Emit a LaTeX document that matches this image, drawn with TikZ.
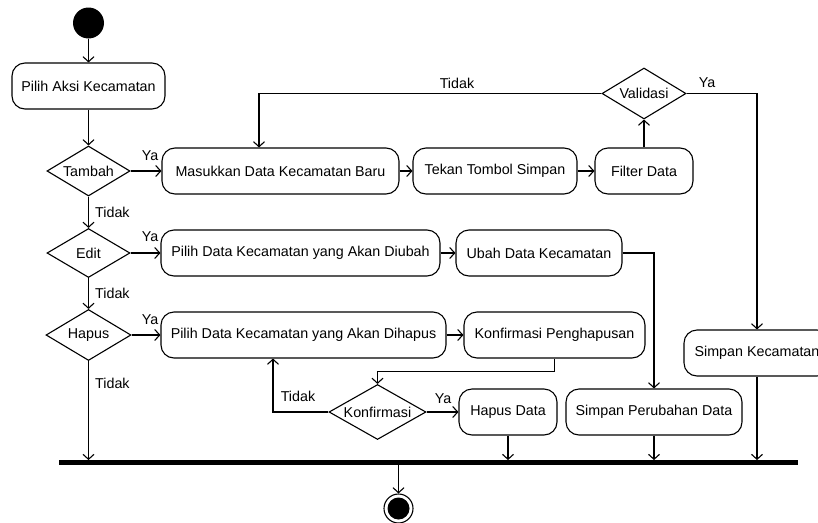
\documentclass[tikz,border=0pt]{standalone}
\usepackage{fontspec}
\setmainfont{Liberation Sans}
\usetikzlibrary{shapes.geometric,arrows.meta}
\begin{document}
\begin{tikzpicture}[x=1pt,y=-1pt,
  every node/.style={font=\fontsize{14.3}{17}\selectfont},
  act/.style={draw, rounded corners=13pt, line width=1.1pt, inner sep=0pt, minimum height=46pt},
  dec/.style={draw, diamond, aspect=1.7, inner sep=0pt, line width=1.1pt},
  lbl/.style={inner sep=0pt},
  flow/.style={draw, line width=1.1pt, -{Straight Barb[length=5pt,width=11pt,line width=1.1pt]}},
  bar/.style={fill=black, inner sep=0pt, minimum width=739pt, minimum height=4.5pt},
  startdot/.style={circle, fill=black, inner sep=0pt, minimum size=31pt},
  finring/.style={circle, draw, line width=1.1pt, fill=white, inner sep=0pt, minimum size=29pt},
  findot/.style={circle, fill=black, inner sep=0pt, minimum size=22pt}
]
\useasboundingbox (0,0) rectangle (818,522);
\clip (0,0) rectangle (818,522);

% start
\node[startdot] (s) at (88.5,23) {};
\node[act, minimum width=153pt] (a1) at (88.5,86) {Pilih Aksi Kecamatan};

% decisions
\node[dec, minimum width=83pt, minimum height=50pt] (t) at (88.5,171) {Tambah};
\node[dec, minimum width=83pt, minimum height=49pt] (e) at (88.5,253) {Edit};
\node[dec, minimum width=85pt, minimum height=51pt] (h) at (88.5,335) {Hapus};
\node[dec, minimum width=84pt, minimum height=51pt] (v) at (644,93.5) {Validasi};
\node[dec, minimum width=97pt, minimum height=55pt] (k) at (377.5,412) {Konfirmasi};

% activities
\node[act, minimum width=237pt] (mk) at (280.5,171) {Masukkan Data Kecamatan Baru};
\node[act, minimum width=164pt] (tk) at (495,171) {Tekan Tombol Simpan};
\node[act, minimum width=98pt] (fd) at (644,171) {Filter Data};
\node[act, minimum width=279pt] (pu) at (300.5,253) {Pilih Data Kecamatan yang Akan Diubah};
\node[act, minimum width=166pt] (ud) at (539,253) {Ubah Data Kecamatan};
\node[act, minimum width=285pt] (ph) at (303.5,335) {Pilih Data Kecamatan yang Akan Dihapus};
\node[act, minimum width=181pt] (kp) at (554.5,335) {Konfirmasi Penghapusan};
\node[act, minimum width=98pt] (hd) at (508,412) {Hapus Data};
\node[act, minimum width=176pt] (sp) at (654,412) {Simpan Perubahan Data};
\node[act, minimum width=146pt] (sk) at (757,353) {Simpan Kecamatan};

% join bar and end
\node[bar] (bar) at (428.5,462.5) {};
\node[finring] (fin) at (398.5,508.5) {};
\node[findot] (findot) at (fin.center) {};

% labels
\node[lbl] (ya1) at (150,156) {Ya};
\node[lbl, anchor=west] (td1) at (95,212) {Tidak};
\node[lbl] (ya2) at (150,237) {Ya};
\node[lbl, anchor=west] (td2) at (95,293) {Tidak};
\node[lbl] (ya3) at (150,319.5) {Ya};
\node[lbl, anchor=west] (td3) at (95,383) {Tidak};
\node[lbl] (td4) at (457,83) {Tidak};
\node[lbl] (ya4) at (707,83) {Ya};
\node[lbl] (td5) at (298,396) {Tidak};
\node[lbl] (ya5) at (443,399) {Ya};

% connectors
\draw[flow] (s) -- (a1);
\draw[flow] (a1) -- (t);
\draw[flow] (t) -- (mk);
\draw[flow] (t) -- (e);
\draw[flow] (e) -- (pu);
\draw[flow] (e) -- (h);
\draw[flow] (h) -- (ph);
\draw[flow] (h.south) -- (h.south |- bar.north);
\draw[flow] (mk) -- (tk);
\draw[flow] (tk) -- (fd);
\draw[flow] (fd) -- (v);
\draw[flow] (v.west) -| ([xshift=-21.5pt]mk.north);
\draw[flow] (v.east) -| (sk.north);
\draw[flow] (sk.south) -- (sk.south |- bar.north);
\draw[flow] (pu) -- (ud);
\draw[flow] (ud.east) -| (sp.north);
\draw[flow] (ph) -- (kp);
\draw[flow] (kp.south) -- ++(0,13) -| (k.north);
\draw[flow] (k.west) -| ([xshift=-30.5pt]ph.south);
\draw[flow] (k) -- (hd);
\draw[flow] (hd.south) -- (hd.south |- bar.north);
\draw[flow] (sp.south) -- (sp.south |- bar.north);
\draw[flow] (bar.south -| fin.north) -- (fin.north);
\end{tikzpicture}
\end{document}
